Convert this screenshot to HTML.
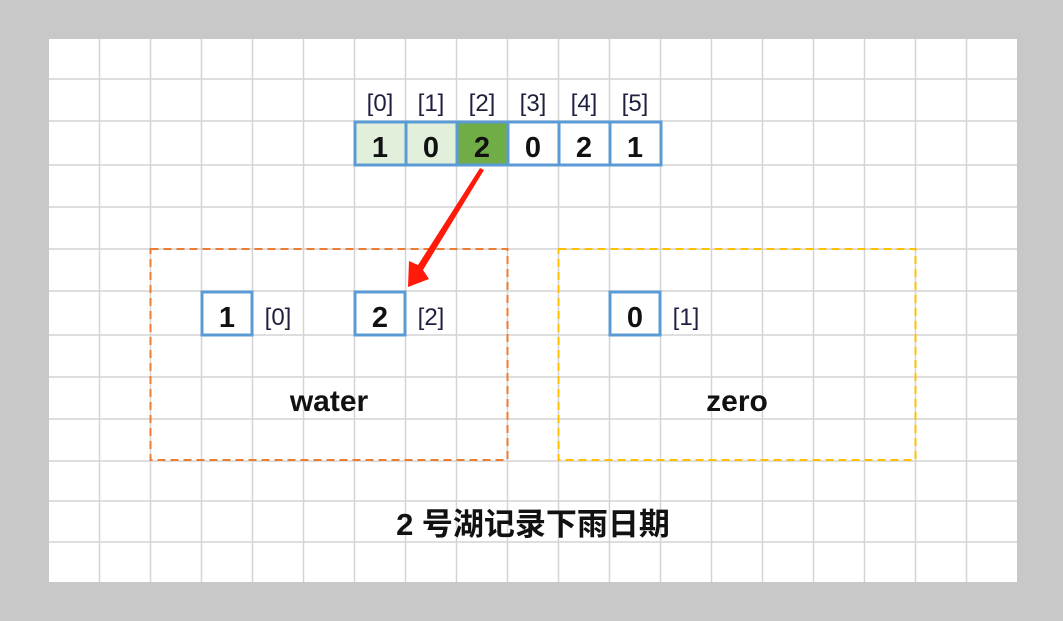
<!DOCTYPE html>
<html><head><meta charset="utf-8"><style>
html,body{margin:0;padding:0;background:#c8c8c8;}
svg{display:block;}
</style></head><body>
<svg width="1063" height="621" xmlns="http://www.w3.org/2000/svg">
<rect x="0" y="0" width="1063" height="621" fill="#c8c8c8"/>
<rect x="49" y="39" width="968" height="543" fill="#fff"/>
<g stroke="#d4d4d4" stroke-width="1.5">
<line x1="99.5" y1="39" x2="99.5" y2="582"/><line x1="150.5" y1="39" x2="150.5" y2="582"/><line x1="201.5" y1="39" x2="201.5" y2="582"/><line x1="252.5" y1="39" x2="252.5" y2="582"/><line x1="303.5" y1="39" x2="303.5" y2="582"/><line x1="354.5" y1="39" x2="354.5" y2="582"/><line x1="405.5" y1="39" x2="405.5" y2="582"/><line x1="456.5" y1="39" x2="456.5" y2="582"/><line x1="507.5" y1="39" x2="507.5" y2="582"/><line x1="558.5" y1="39" x2="558.5" y2="582"/><line x1="609.5" y1="39" x2="609.5" y2="582"/><line x1="660.5" y1="39" x2="660.5" y2="582"/><line x1="711.5" y1="39" x2="711.5" y2="582"/><line x1="762.5" y1="39" x2="762.5" y2="582"/><line x1="813.5" y1="39" x2="813.5" y2="582"/><line x1="864.5" y1="39" x2="864.5" y2="582"/><line x1="915.5" y1="39" x2="915.5" y2="582"/><line x1="966.5" y1="39" x2="966.5" y2="582"/>
<line x1="49" y1="79" x2="1017" y2="79"/><line x1="49" y1="121" x2="1017" y2="121"/><line x1="49" y1="165" x2="1017" y2="165"/><line x1="49" y1="207" x2="1017" y2="207"/><line x1="49" y1="249" x2="1017" y2="249"/><line x1="49" y1="291" x2="1017" y2="291"/><line x1="49" y1="335" x2="1017" y2="335"/><line x1="49" y1="377" x2="1017" y2="377"/><line x1="49" y1="419" x2="1017" y2="419"/><line x1="49" y1="461" x2="1017" y2="461"/><line x1="49" y1="501" x2="1017" y2="501"/><line x1="49" y1="542" x2="1017" y2="542"/>
</g>
<rect x="150.5" y="249" width="357" height="211" fill="none" stroke="#ed7d31" stroke-width="2" stroke-dasharray="8,5"/>
<rect x="558.5" y="249" width="357" height="211" fill="none" stroke="#ffc000" stroke-width="2" stroke-dasharray="8,5"/>
<g stroke="#5b9bd5" stroke-width="3">
<rect x="355" y="122" width="51" height="43" fill="#e2efda"/>
<rect x="406" y="122" width="51" height="43" fill="#e2efda"/>
<rect x="457" y="122" width="51" height="43" fill="#70ad47"/>
<rect x="508" y="122" width="51" height="43" fill="#fff"/>
<rect x="559" y="122" width="51" height="43" fill="#fff"/>
<rect x="610" y="122" width="51" height="43" fill="#fff"/>
<rect x="202" y="292" width="50" height="43" fill="#fff"/>
<rect x="355" y="292" width="50" height="43" fill="#fff"/>
<rect x="610" y="292" width="50" height="43" fill="#fff"/>
</g>
<g font-family="Liberation Sans, sans-serif" font-size="24" fill="#1f1f3f" text-anchor="middle">
<text x="380" y="111">[0]</text><text x="431" y="111">[1]</text><text x="482" y="111">[2]</text><text x="533" y="111">[3]</text><text x="584" y="111">[4]</text><text x="635" y="111">[5]</text>
<text x="278" y="325">[0]</text><text x="431" y="325">[2]</text><text x="686" y="325">[1]</text>
</g>
<g font-family="Liberation Sans, sans-serif" font-size="29" font-weight="bold" fill="#111" text-anchor="middle">
<text x="380" y="157">1</text><text x="431" y="157">0</text><text x="482" y="157">2</text><text x="533" y="157">0</text><text x="584" y="157">2</text><text x="635" y="157">1</text>
<text x="227" y="327">1</text><text x="380" y="327">2</text><text x="635" y="327">0</text>
</g>
<g font-family="Liberation Sans, sans-serif" font-size="30" font-weight="bold" fill="#111" text-anchor="middle">
<text x="329" y="411">water</text><text x="737" y="411">zero</text>
</g>
<text x="533" y="535" text-anchor="middle" font-family="Liberation Sans, 'Noto Sans CJK SC', sans-serif" font-size="31" font-weight="bold" fill="#111">2 号湖记录下雨日期</text>
<polygon points="484,170 480,168 418,265 409,261 408,287 429,279 423,270" fill="#ff1a0a"/>
</svg>
</body></html>
